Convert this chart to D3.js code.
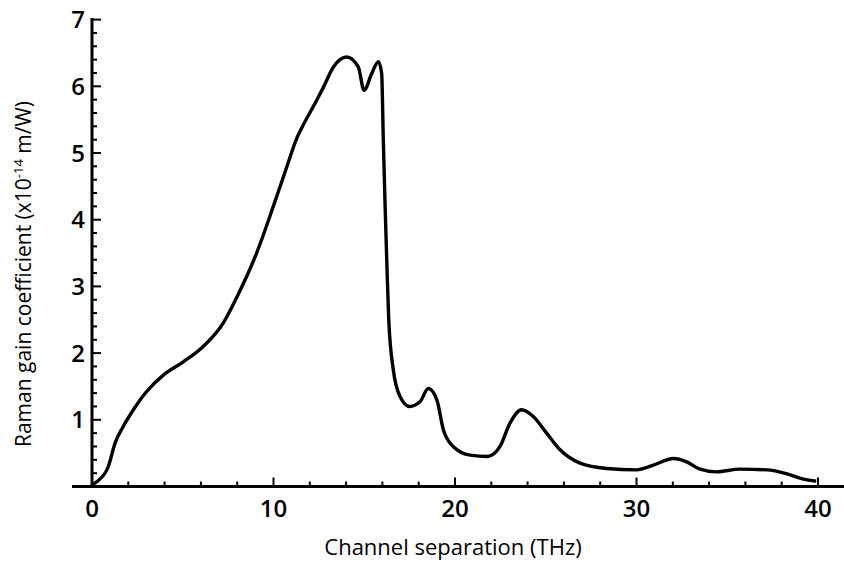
<!DOCTYPE html>
<html lang="en">
<head>
  <meta charset="UTF-8">
  <title>Raman gain</title>
  <script src="https://d3js.org/d3.v7.min.js"></script>
  <style>
    body { margin: 0; background: #fff; }
    text { font-family: "Open Sans", "Noto Sans", sans-serif; fill: #000; }
  </style>
</head>
<body>
  <script>
    // values (THz, x10^-14 m/W)
    var freq = [0, 0.26, 0.9, 1.27, 1.72, 2.28, 3.0, 3.93, 5.03, 6.13, 7.23, 8.0, 9.07, 9.99,
                10.73, 11.28, 11.6, 12.38, 12.74, 13.3, 14.03, 14.67, 14.99, 15.41, 15.78, 15.96,
                16.05, 16.15, 16.25, 16.35, 16.6, 16.97, 17.5, 18.07, 18.53, 19.0, 19.36, 19.9,
                20.83, 21.8, 22.48, 23.03, 23.67, 24.31, 25.05, 25.79, 26.89, 28.36, 30.0, 30.93,
                32.03, 32.76, 33.5, 34.4, 35.7, 37.2, 38.3, 39.2, 39.9];
    var gain = [0.02, 0.07, 0.30, 0.65, 0.90, 1.15, 1.42, 1.67, 1.87, 2.10, 2.45, 2.85, 3.50, 4.20,
                4.79, 5.22, 5.40, 5.79, 5.98, 6.29, 6.44, 6.29, 5.94, 6.19, 6.37, 6.19,
                5.2, 4.2, 3.3, 2.5, 1.75, 1.35, 1.20, 1.27, 1.47, 1.30, 0.85, 0.60,
                0.47, 0.45, 0.60, 0.95, 1.15, 1.05, 0.80, 0.55, 0.35, 0.27, 0.25, 0.32,
                0.42, 0.37, 0.26, 0.22, 0.26, 0.25, 0.19, 0.11, 0.08];
    var xTicks = [0, 10, 20, 30, 40];
    var yTicks = [1, 2, 3, 4, 5, 6, 7];

    var width = 844, height = 563;
    var svg = d3.select("body").append("svg")
                .attr("width", width)
                .attr("height", height);

    var x = d3.scaleLinear().domain([0, 40]).range([92, 818]);
    var y = d3.scaleLinear().domain([0, 7]).range([486.5, 19.6]);

    // x axis line, runs a bit left of 0 and out to the edge
    svg.append("line")
       .attr("x1", 72).attr("x2", width)
       .attr("y1", y(0)).attr("y2", y(0))
       .attr("stroke", "#000").attr("stroke-width", 3);

    // y axis line
    svg.append("line")
       .attr("x1", x(0)).attr("x2", x(0))
       .attr("y1", y(7) - 1.5).attr("y2", y(0))
       .attr("stroke", "#000").attr("stroke-width", 3);

    // x ticks pointing up
    svg.selectAll(".xminor")
       .data(d3.range(0, 41, 2))
       .enter().append("line")
       .attr("x1", d => x(d)).attr("x2", d => x(d))
       .attr("y1", y(0)).attr("y2", d => y(0) - (d % 10 === 0 ? 9 : 5))
       .attr("stroke", "#000").attr("stroke-width", 2);

    // y ticks pointing right
    svg.selectAll(".yminor")
       .data(d3.range(0, 36).map(i => i * 0.2))
       .enter().append("line")
       .attr("y1", d => y(d)).attr("y2", d => y(d))
       .attr("x1", x(0)).attr("x2", d => x(0) + (Math.abs(d - Math.round(d)) < 1e-6 ? 9 : 5))
       .attr("stroke", "#000").attr("stroke-width", 2);

    svg.selectAll(".xlab")
       .data(xTicks)
       .enter().append("text")
       .attr("x", d => x(d))
       .attr("y", 517)
       .attr("text-anchor", "middle")
       .attr("font-size", 24)
       .attr("font-weight", 600)
       .text(d => d);

    svg.selectAll(".ylab")
       .data(yTicks)
       .enter().append("text")
       .attr("x", 85)
       .attr("y", d => y(d) + 8.5)
       .attr("text-anchor", "end")
       .attr("font-size", 24)
       .attr("font-weight", 600)
       .text(d => d);

    svg.append("text")
       .attr("x", 453)
       .attr("y", 555)
       .attr("text-anchor", "middle")
       .attr("font-size", 22)
       .attr("font-weight", 500)
       .text("Channel separation (THz)");

    var yt = svg.append("text")
       .attr("transform", "translate(31,274) rotate(-90)")
       .attr("text-anchor", "middle")
       .attr("font-size", 21)
       .attr("font-weight", 500);
    yt.append("tspan").text("Raman gain coefficient (x10");
    yt.append("tspan").attr("font-size", 13).attr("dy", -8).text("-14");
    yt.append("tspan").attr("dy", 8).text(" m/W)");

    var pts = freq.map((f, i) => [f, gain[i]]);
    var line = d3.line()
                 .x(d => x(d[0]))
                 .y(d => y(d[1]))
                 .curve(d3.curveMonotoneX);

    svg.append("path")
       .datum(pts)
       .attr("d", line)
       .attr("fill", "none")
       .attr("stroke", "#000")
       .attr("stroke-width", 3.4)
       .attr("stroke-linejoin", "round");
  </script>
</body>
</html>
